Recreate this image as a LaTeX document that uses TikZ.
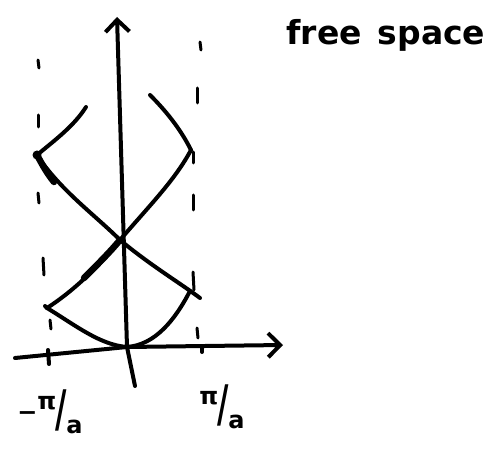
\documentclass[tikz,border=0pt]{standalone}
\usepackage{fontspec}
\setsansfont{DejaVu Sans}
\usetikzlibrary{arrows.meta}
\newcommand\slashfrac[2]{\raisebox{0.45em}{#1}\kern-0.04em\raisebox{-0.25em}{\scalebox{1.3}[2.1]{/}}\kern-0.02em\raisebox{-0.55em}{#2}}
\begin{document}
\begin{tikzpicture}[x=1pt,y=-1pt,line cap=round,line join=round,
  ink/.style={line width=4pt},
  heavy/.style={line width=6.5pt},
  guide/.style={line width=3pt},
  axisarrow/.style={line width=4pt,-{Straight Barb[length=12pt,width=24pt,line width=4pt]}},
  lbl/.style={font=\fontsize{24}{24}\selectfont\sffamily\bfseries},
  title/.style={font=\fontsize{33}{33}\selectfont\sffamily\bfseries}]
\useasboundingbox (0,0) rectangle (503,454);
% guide dashes at -pi/a and pi/a
\foreach \a/\b in {{38,60}/{39,68},{38,115}/{38,127},{38,193}/{39,203},{43,258}/{44,275},{50,320}/{51,329}}
  \draw[guide] (\a) -- (\b);
\foreach \a/\b in {{200,42}/{201,50},{197,88}/{197,103},{193,152}/{193,163},{193,195}/{193,210},{193,272}/{194,290},{197,328}/{198,338}}
  \draw[guide] (\a) -- (\b);
% axes
\coordinate (xs) at (15,358);
\coordinate (o) at (127,347);
\coordinate (xe) at (283,345);
\coordinate (ys) at (135,386);
\coordinate (ye) at (117,17);
\draw[axisarrow] (xs) -- (o) -- (xe);
\draw[axisarrow] (ys) -- (o) -- (ye);
\draw[ink] (48,350) -- (49,364);
\draw[ink] (202,348) -- (202,352);
% bands
\coordinate (tl) at (37,155);
\coordinate (tr) at (191,150);
\coordinate (c) at (120,240);
\coordinate (bl) at (47,308);
\coordinate (br) at (200,298);
\draw[ink] (tl) .. controls (55,140) and (74,126) .. (86,107);
\draw[ink] (150,95) .. controls (165,110) and (180,128) .. (tr);
\draw[ink] (tl) .. controls (60,190) and (95,215) .. (c)
  .. controls (150,265) and (180,283) .. (br);
\draw[ink] (bl) .. controls (75,290) and (100,265) .. (c)
  .. controls (150,205) and (175,180) .. (tr);
\draw[ink] (45,306) -- (bl);
\draw[ink] (bl) .. controls (75,325) and (100,345) .. (o)
  .. controls (155,345) and (175,320) .. (190,291);
\draw[heavy] (tl) .. controls (42,164) and (46,172) .. (54,182);
\draw[heavy] (84,278) .. controls (98,264) and (110,252) .. (c);
\fill (tl) circle (4.5pt);
% labels
\node[lbl] (lneg) at (50,412) {−\slashfrac{π}{a}};
\node[lbl] (lpos) at (222,407) {\slashfrac{π}{a}};
\node[title,anchor=base west] (ttl) at (283,45) {free\hspace{16pt}space};
\end{tikzpicture}
\end{document}
